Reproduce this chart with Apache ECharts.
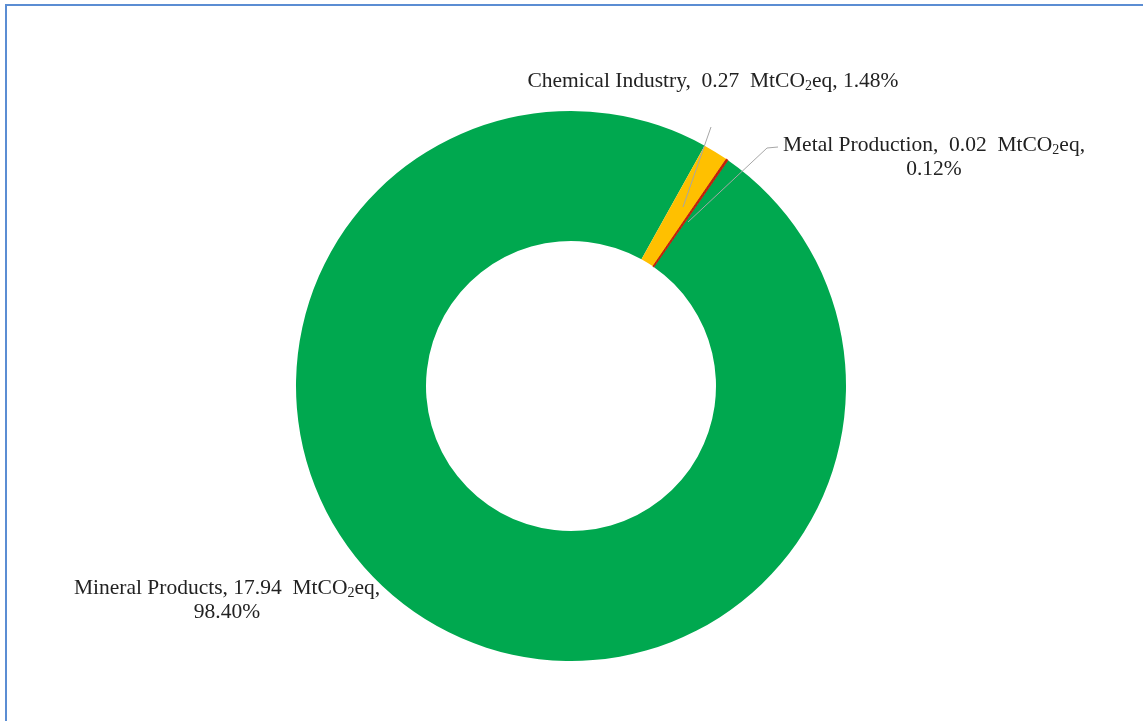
<!DOCTYPE html>
<html>
<head>
<meta charset="utf-8">
<script src="https://cdn.jsdelivr.net/npm/echarts@6/dist/echarts.min.js"></script>
<style>
  html, body { margin: 0; padding: 0; background: #fff; }
  #wrap { position: relative; width: 1143px; height: 721px; overflow: hidden; }
  #frame { position: absolute; left: 5px; top: 4px; width: 1150px; height: 730px;
           border-top: 2px solid #5B8DD3; border-left: 2px solid #5B8DD3; box-sizing: border-box; }
  #chart { position: absolute; left: 0; top: 0; width: 1143px; height: 721px; }
</style>
</head>
<body>
<div id="wrap">
  <div id="chart"></div>
  <div id="frame"></div>
</div>
<script>
// ---- data (clockwise order from the start angle) ----
var categories = ['Mineral Products', 'Chemical Industry', 'Metal Production'];
var values = [17.94, 0.27, 0.02];
var percentLabels = ['98.40%', '1.48%', '0.12%'];
var colors = ['#00A84F', '#FFC000', '#C0200A'];

var labelText = [
  '{a|' + categories[0] + ', ' + values[0].toFixed(2) + '  MtCO}{s|2}{a|eq,}\n{a|' + percentLabels[0] + '}',
  '{a|' + categories[1] + ',  ' + values[1].toFixed(2) + '  MtCO}{s|2}{a|eq, ' + percentLabels[1] + '}',
  '{a|' + categories[2] + ',  ' + values[2].toFixed(2) + '  MtCO}{s|2}{a|eq,}\n{a|' + percentLabels[2] + '}'
];

var layouts = [
  { x: 227, y: 600, pts: null },
  { x: 713, y: 81, pts: [[683, 207], [697, 167], [711, 127]] },
  { x: 934, y: 157, pts: [[688, 222], [767, 148], [778, 147]] }
];

var chart = echarts.init(document.getElementById('chart'), null, { renderer: 'canvas' });

var serif = 'Liberation Serif, Times New Roman, serif';

function makeData(forLabels) {
  return categories.map(function (c, i) {
    var it = { name: c, value: values[i] };
    if (forLabels) {
      it.itemStyle = { color: 'rgba(0,0,0,0)' };
      it.labelLine = { show: layouts[i].pts !== null };
    } else {
      it.itemStyle = { color: colors[i] };
      if (i === 2) { it.itemStyle.borderColor = colors[i]; it.itemStyle.borderWidth = 1; }
    }
    return it;
  });
}

var common = {
  type: 'pie',
  center: [571, 386],
  radius: [145, 275],
  startAngle: 55.2,
  clockwise: true,
  avoidLabelOverlap: false,
  emphasis: { disabled: true },
  silent: true
};

chart.setOption({
  animation: false,
  backgroundColor: 'transparent',
  series: [
    Object.assign({}, common, {
      z: 2,
      data: makeData(false),
      label: { show: false },
      labelLine: { show: false }
    }),
    Object.assign({}, common, {
      z: 5,
      data: makeData(true),
      label: {
        show: true,
        position: 'outside',
        formatter: function (p) { return labelText[p.dataIndex]; },
        color: '#222',
        align: 'center',
        rich: {
          a: { fontFamily: serif, fontSize: 21.5, color: '#222', lineHeight: 24 },
          s: { fontFamily: serif, fontSize: 14, color: '#222', lineHeight: 16, verticalAlign: 'bottom' }
        }
      },
      labelLine: {
        show: true,
        lineStyle: { color: '#A6A6A6', width: 1 }
      },
      labelLayout: function (params) {
        var L = layouts[params.dataIndex];
        var r = { x: L.x, y: L.y, align: 'center', verticalAlign: 'middle' };
        if (L.pts) r.labelLinePoints = L.pts;
        return r;
      }
    })
  ]
});
</script>
</body>
</html>
